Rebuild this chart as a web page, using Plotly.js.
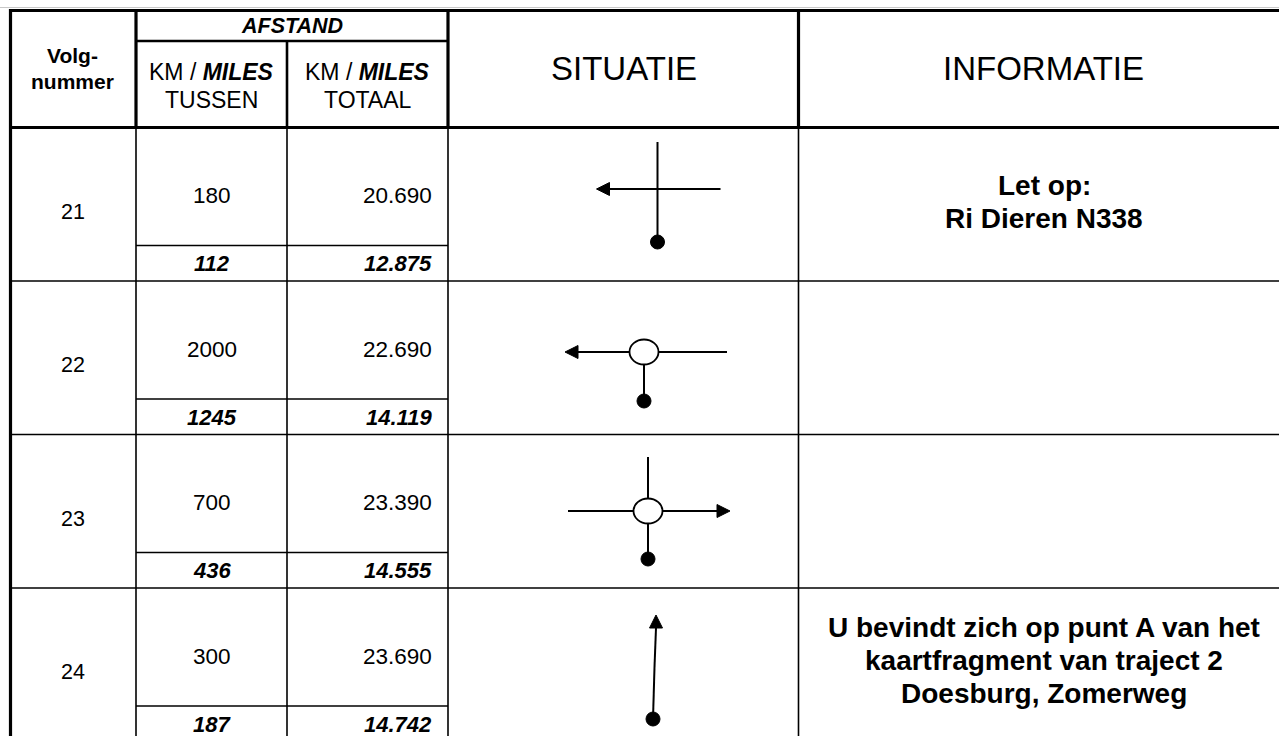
<!DOCTYPE html>
<html>
<head>
<meta charset="utf-8">
<script src="https://cdn.plot.ly/plotly-3.0.1.min.js"></script>
<style>
  html, body { margin: 0; padding: 0; background: #ffffff; }
  #chart { width: 1279px; height: 736px; }
</style>
</head>
<body>
<div id="chart"></div>
<script>
// ---------- DATA ----------
const volgnummer   = ['21', '22', '23', '24'];
const kmTussen     = ['180', '2000', '700', '300'];
const kmTotaal     = ['20.690', '22.690', '23.390', '23.690'];
const milesTussen  = ['112', '1245', '436', '187'];
const milesTotaal  = ['12.875', '14.119', '14.555', '14.742'];
const informatie   = [
  ['Let op:', 'Ri Dieren N338'],
  [],
  [],
  ['U bevindt zich op punt A van het', 'kaartfragment van traject 2', 'Doesburg, Zomerweg']
];
// situation sketches: arms of the junction, the arm you leave by, roundabout or not
const situatieArmen    = [['N', 'O', 'W', 'Z'], ['W', 'O', 'Z'], ['N', 'W', 'O', 'Z'], ['Z', 'N']];
const situatieRichting = ['W', 'W', 'O', 'N'];
const situatieRotonde  = [false, true, true, false];

const headerVolg      = ['Volg-', 'nummer'];
const headerAfstand   = 'AFSTAND';
const headerTussen    = ['KM / <b><i>MILES</i></b>', 'TUSSEN'];
const headerTotaal    = ['KM / <b><i>MILES</i></b>', 'TOTAAL'];
const headerSituatie  = 'SITUATIE';
const headerInfo      = 'INFORMATIE';

// ---------- LAYOUT GEOMETRY (pixels) ----------
const FONT = 'Liberation Sans, Arial, Helvetica, sans-serif';
const colX = { left: 10.5, c1: 136, c2: 287, c3: 448, c4: 798.5, right: 1279 };
const topY = 10.5, afstandY = 41, headBottom = 127.5;
const rowTop = [127.5, 281, 434.5, 588];
const subOffset = 118;
const infoLineGap = 33;
const sketchGeo = [
  { cx: 657.5, cy: 189, len: { N: 47, O: 63, W: 61, Z: 53 } },
  { cx: 644, cy: 352, len: { W: 79, O: 83, Z: 49 } },
  { cx: 648, cy: 511, len: { N: 54, W: 80, O: 82, Z: 48 } },
  { cx: 654.5, cy: 667, len: { Z: 52, N: 52 }, tilt: 1.5 }
];
const dirs = { N: [0, -1], Z: [0, 1], O: [1, 0], W: [-1, 0] };

const shapes = [];
const annotations = [];
function hline(y, x0, x1, w, c) {
  shapes.push({ type: 'line', xref: 'x', yref: 'y', x0: x0, x1: x1, y0: y, y1: y, line: { color: c || '#000', width: w } });
}
function vline(x, y0, y1, w) {
  shapes.push({ type: 'line', xref: 'x', yref: 'y', x0: x, x1: x, y0: y0, y1: y1, line: { color: '#000', width: w } });
}
function seg(x0, y0, x1, y1, w) {
  shapes.push({ type: 'line', xref: 'x', yref: 'y', x0: x0, x1: x1, y0: y0, y1: y1, line: { color: '#000', width: w } });
}
function text(t, x, y, size, xanchor) {
  annotations.push({
    text: t, x: x, y: y, xref: 'x', yref: 'y', showarrow: false,
    xanchor: xanchor || 'center', yanchor: 'middle', align: 'center',
    font: { family: FONT, size: size, color: '#000' }
  });
}

// page edge
hline(7.5, 0, 1279, 1, '#c8c8c8');

// grid: thin lines in body
rowTop.forEach(function (t, i) {
  if (i > 0) hline(t, colX.left, colX.right, 1.6);
  hline(t + subOffset, colX.c1, colX.c3, 1.6);
});
[colX.c1, colX.c2, colX.c3, colX.c4].forEach(function (x) { vline(x, headBottom, 736, 1.6); });

// header (thick)
hline(topY, colX.left - 1.5, colX.right, 3.2);
hline(headBottom, colX.left - 1.5, colX.right, 3.2);
hline(afstandY, colX.c1, colX.c3, 2.6);
vline(colX.c1, topY, headBottom, 3.2);
vline(colX.c2, afstandY, headBottom, 2.6);
vline(colX.c3, topY, headBottom, 3.2);
vline(colX.c4, topY, headBottom, 3.2);
vline(colX.left, topY - 1.5, 736, 3.2);

// header texts
text('<b>' + headerVolg[0] + '</b>', 72.5, 55, 21);
text('<b>' + headerVolg[1] + '</b>', 72.5, 81.5, 21);
text('<b><i>' + headerAfstand + '</i></b>', (colX.c1 + colX.c3) / 2, 25.5, 21.5);
text(headerTussen[0], (colX.c1 + colX.c2) / 2, 72, 23);
text(headerTussen[1], (colX.c1 + colX.c2) / 2, 100, 23);
text(headerTotaal[0], (colX.c2 + colX.c3) / 2, 72, 23);
text(headerTotaal[1], (colX.c2 + colX.c3) / 2, 100, 23);
text(headerSituatie, 623.5, 68.5, 33);
text(headerInfo, 1043, 68.5, 33);

// body texts
rowTop.forEach(function (t, i) {
  text(volgnummer[i], 72.5, t + 84, 21.5);
  text(kmTussen[i], 212, t + 68, 22.5);
  text(kmTotaal[i], 434, t + 68, 22.5, 'right');
  text('<b><i>' + milesTussen[i] + '</i></b>', 212, t + 136, 22);
  text('<b><i>' + milesTotaal[i] + '</i></b>', 434, t + 136, 22, 'right');
  const lines = informatie[i];
  if (lines.length) {
    const midY = lines.length === 2 ? t + 74.5 : t + 72.5;
    lines.forEach(function (ln, k) {
      text('<b>' + ln + '</b>', 1044, midY + (k - (lines.length - 1) / 2) * infoLineGap, 28);
    });
  }
});

// situation sketches
situatieArmen.forEach(function (armen, i) {
  const g = sketchGeo[i];
  const rot = situatieRotonde[i];
  const tilt = g.tilt || 0;
  const rx = 14.5, ry = 12.5;
  armen.forEach(function (a) {
    const d = dirs[a];
    const L = g.len[a];
    const start = rot ? (d[0] !== 0 ? rx : ry) : 0;
    const sx = g.cx + d[0] * start, sy = g.cy + d[1] * start;
    const ex = g.cx + d[0] * L - d[1] * tilt, ey = g.cy + d[1] * L;
    if (a === situatieRichting[i]) {
      const bx = ex - d[0] * 13, by = ey - d[1] * 13;
      seg(sx, sy, bx, by, 2);
      const px = -d[1] * 6.5, py = d[0] * 6.5;
      shapes.push({
        type: 'path', xref: 'x', yref: 'y',
        path: 'M ' + ex + ',' + ey + ' L ' + (bx + px) + ',' + (by + py) + ' L ' + (bx - px) + ',' + (by - py) + ' Z',
        fillcolor: '#000', line: { color: '#000', width: 1 }
      });
    } else {
      seg(sx, sy, ex, ey, 2);
    }
    if (a === 'Z') {
      shapes.push({ type: 'circle', xref: 'x', yref: 'y', x0: ex - 7, x1: ex + 7, y0: ey - 7, y1: ey + 7, fillcolor: '#000', line: { color: '#000', width: 1 } });
    }
  });
  if (rot) {
    shapes.push({ type: 'circle', xref: 'x', yref: 'y', x0: g.cx - rx, x1: g.cx + rx, y0: g.cy - ry, y1: g.cy + ry, fillcolor: '#fff', line: { color: '#000', width: 1.8 } });
  }
});

const layout = {
  width: 1279, height: 736,
  margin: { l: 0, r: 0, t: 0, b: 0, pad: 0 },
  paper_bgcolor: '#ffffff', plot_bgcolor: '#ffffff',
  showlegend: false,
  xaxis: { range: [0, 1279], visible: false, fixedrange: true },
  yaxis: { range: [736, 0], visible: false, fixedrange: true },
  shapes: shapes,
  annotations: annotations
};

Plotly.newPlot('chart', [{ type: 'scatter', x: [], y: [], hoverinfo: 'skip' }], layout, { staticPlot: true, displayModeBar: false });
</script>
</body>
</html>
